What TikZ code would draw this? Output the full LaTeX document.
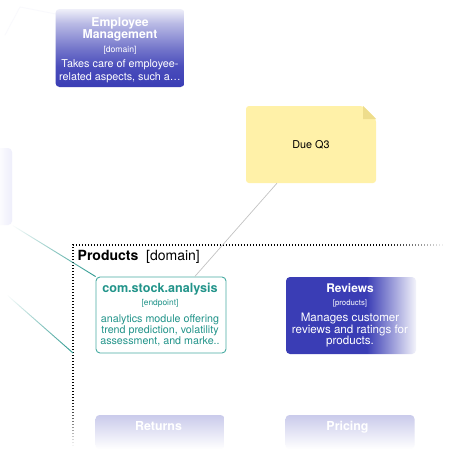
\documentclass[tikz,border=0pt]{standalone}
\usepackage{fontspec}
\setmainfont{TeX Gyre Heros}
\usetikzlibrary{fadings}
\definecolor{blueA}{RGB}{58,61,181}
\definecolor{tealT}{RGB}{34,148,138}
\definecolor{tealB}{RGB}{72,172,162}
\definecolor{noteF}{RGB}{255,241,168}
\definecolor{noteD}{RGB}{238,221,140}
\definecolor{ghostC}{RGB}{238,238,251}
\definecolor{lineG}{RGB}{195,195,195}
\pgfdeclareverticalshading{empshade}{100bp}{color(0bp)=(blueA); color(25bp)=(blueA); color(38bp)=(blueA!92!white); color(49bp)=(blueA!72!white); color(66bp)=(blueA!35!white); color(75bp)=(blueA!8!white); color(100bp)=(blueA!8!white)}
\pgfdeclarehorizontalshading{revshade}{100bp}{color(0bp)=(blueA); color(25bp)=(blueA); color(56bp)=(blueA); color(75bp)=(blueA!6!white); color(100bp)=(blueA!6!white)}
\newcommand\fsz[1]{\fontsize{#1}{#1}\selectfont}
\begin{document}
\begin{tikzpicture}[x=1pt,y=-1pt,
  boxbase/.style={rectangle, rounded corners=4pt, inner sep=0pt, minimum width=129pt},
  wtxt/.style={anchor=base, inner sep=0pt, text=white},
  ttxt/.style={anchor=base, inner sep=0pt, text=tealT},
  ktxt/.style={anchor=base west, inner sep=0pt, text=black},
  tealline/.style={draw=tealT, line width=0.9pt, path fading=west},
  dotborder/.style={line width=1.3pt, dash pattern=on 1.3pt off 1.7pt}
]
\useasboundingbox (0,0) rectangle (450,450);
\clip (0,0) rectangle (450,450);
\fill[white] (0,0) rectangle (450,450);

% faint connector at top-left
\coordinate (fa) at (5,35);
\coordinate (fb) at (20,7);
\coordinate (fc) at (56,14);
\draw[blueA!3, line width=0.8pt] (fa) -- (fb) -- (fc);

% ghost node at left edge
\node[rectangle, rounded corners=4pt, inner sep=0pt, minimum width=16pt, minimum height=77pt, left color=white, right color=ghostC] (ghost) at (4,186.5) {};

% Employee Management
\node[boxbase, shading=empshade, minimum height=78pt] (emp) at (120,48) {};
\node[wtxt, font=\fsz{12.2}\bfseries] (empT1) at (120,26) {Employee};
\node[wtxt, font=\fsz{12.2}\bfseries] (empT2) at (120,38) {Management};
\node[wtxt, font=\fsz{8.6}] (empS) at (120,52) {[domain]};
\node[wtxt, font=\fsz{10.8}] (empD1) at (120,67.5) {Takes care of employee-};
\node[wtxt, font=\fsz{10.8}] (empD2) at (120,80.5) {related aspects, such a…};

% Note
\fill[noteF, rounded corners=3pt] (246,106) -- (363,106) -- (376,119) -- (376,183) -- (246,183) -- cycle;
\fill[noteD] (363,106) -- (363,119) -- (376,119) -- cycle;
\node[rectangle, inner sep=0pt, minimum width=130pt, minimum height=77pt, font=\fsz{10.8}] (note) at (311,144.5) {Due Q3};

% Products group border
\coordinate (grp) at (73,245);
\draw[dotborder] (73,455) -- (grp) -- (455,245);
\node[ktxt, font=\fsz{14}\bfseries] (prodT) at (77.5,260) {Products};
\node[ktxt, font=\fsz{14}] (prodS) at (146,260) {[domain]};

% com.stock.analysis
\node[boxbase, minimum width=130pt, minimum height=76pt, fill=white, draw=tealB, line width=0.9pt] (com) at (161,315) {};
\node[ttxt, font=\fsz{12.6}\bfseries] (comT) at (160,292.5) {com.stock.analysis};
\node[ttxt, font=\fsz{8.4}] (comS) at (160,305.5) {[endpoint]};
\node[ttxt, font=\fsz{10.7}] (comD1) at (160,322.5) {analytics module offering};
\node[ttxt, font=\fsz{10.7}] (comD2) at (160,333.5) {trend prediction, volatility};
\node[ttxt, font=\fsz{10.7}] (comD3) at (160,344.5) {assessment, and marke..};

% Reviews
\node[boxbase, minimum width=130pt, minimum height=77pt, shading=revshade] (rev) at (351,315.5) {};
\node[wtxt, font=\fsz{11.9}\bfseries] (revT) at (350,292.5) {Reviews};
\node[wtxt, font=\fsz{7.8}] (revS) at (350,305.5) {[products]};
\node[wtxt, font=\fsz{11.6}] (revD1) at (350,321.5) {Manages customer};
\node[wtxt, font=\fsz{11.6}] (revD2) at (350,333) {reviews and ratings for};
\node[wtxt, font=\fsz{11.6}] (revD3) at (350,344.5) {products.};

% Returns / Pricing (faded)
\node[boxbase, minimum height=34pt, top color=blueA!27!white, bottom color=white] (ret) at (160,432) {};
\node[wtxt, font=\fsz{12.4}\bfseries] (retT) at (158.5,430.7) {Returns};
\node[boxbase, minimum height=34pt, top color=blueA!27!white, bottom color=white] (pri) at (350,432) {};
\node[wtxt, font=\fsz{12.4}\bfseries] (priT) at (347.5,430.7) {Pricing};

% connectors
\draw[lineG, line width=0.7pt] (note) -- (com);
\draw[tealline] (ghost.south east) -- (com.north west);
\coordinate (ta) at (7,295);
\coordinate (tb) at (73,353);
\draw[tealline] (ta) -- (tb);

% edge fades of the group border
\fill[white, path fading=west] (385,238) rectangle (446,252);
\fill[white] (445,238) rectangle (451,252);
\fill[white, path fading=north] (66,398) rectangle (80,447);
\fill[white] (66,446) rectangle (80,451);
\end{tikzpicture}
\end{document}
